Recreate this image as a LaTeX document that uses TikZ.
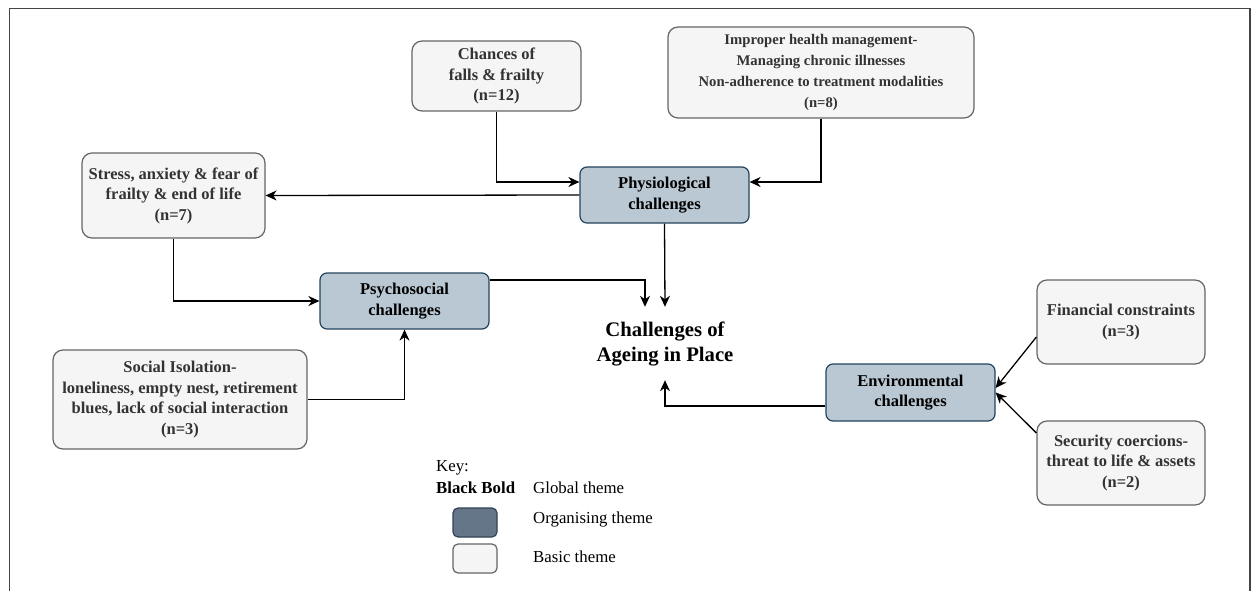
\documentclass[tikz,border=0pt]{standalone}
\usepackage{fontspec}
\setmainfont{Liberation Serif}
\usetikzlibrary{arrows.meta}
\definecolor{basicfill}{HTML}{F5F5F5}
\definecolor{basicdraw}{HTML}{666666}
\definecolor{basictext}{HTML}{333333}
\definecolor{orgfill}{HTML}{BAC8D3}
\definecolor{orgdraw}{HTML}{23445D}
\definecolor{keyfill}{HTML}{647687}
\definecolor{keydraw}{HTML}{314354}
\definecolor{framecol}{HTML}{444444}
\begin{document}
\begin{tikzpicture}[x=1pt,y=-1pt,
  basic/.style={draw=basicdraw, fill=basicfill, text=basictext, rounded corners=10pt,
    line width=1.2pt, align=center, inner sep=0pt,
    font=\fontsize{16.5}{20.5}\selectfont\bfseries},
  org/.style={draw=orgdraw, fill=orgfill, text=black, rounded corners=7pt,
    line width=1.2pt, align=center, inner sep=0pt, minimum width=169pt, minimum height=56pt,
    font=\fontsize{16.5}{20.5}\selectfont\bfseries},
  conn/.style={line width=1.3pt, -{Stealth[length=11pt,width=10pt,inset=3.5pt]}},
  keytext/.style={anchor=west, inner sep=0pt, font=\fontsize{16.8}{20}\selectfont}
]
\useasboundingbox (0,0) rectangle (1251,591);
\draw[framecol, line width=1.2pt] (9.5,591) -- (9.5,8.5) -- (1250,8.5) -- (1250,591);

% basic theme boxes
\node[basic, minimum width=183pt, minimum height=85pt] (stress) at (173.5,195.5)
  {Stress, anxiety \& fear of\\frailty \& end of life\\(n=7)};
\node[basic, minimum width=169pt, minimum height=70pt] (chances) at (496.5,76)
  {Chances of\\falls \& frailty\\(n=12)};
\node[basic, minimum width=306pt, minimum height=91pt, font=\fontsize{14.7}{21.3}\selectfont\bfseries] (improper) at (821,72.5)
  {Improper health management-\\Managing chronic illnesses\\Non-adherence to treatment modalities\\(n=8)};
\node[basic, minimum width=254pt, minimum height=99pt] (social) at (180,399.5)
  {Social Isolation-\\loneliness, empty nest, retirement\\blues, lack of social interaction\\(n=3)};
\node[basic, minimum width=168pt, minimum height=84pt] (financial) at (1121,322)
  {Financial constraints\\(n=3)};
\node[basic, minimum width=168pt, minimum height=84pt] (security) at (1121,463)
  {Security coercions-\\threat to life \& assets\\(n=2)};

% organising theme boxes
\node[org] (physio) at (664.5,195) {Physiological\\challenges};
\node[org] (psycho) at (404.5,301) {Psychosocial\\challenges};
\node[org, minimum height=57pt] (env) at (910.5,392.5) {Environmental\\challenges};

% global theme
\node[align=center, inner sep=0pt, minimum width=150pt, minimum height=73pt,
  font=\fontsize{20.7}{25}\selectfont\bfseries] (global) at (665,343.5)
  {Challenges of\\Ageing in Place};

% connectors
\draw[conn] (chances.south) |- ([yshift=13pt]physio.west);
\draw[conn] (improper.south) |- ([yshift=13pt]physio.east);
\draw[conn] (physio.west) -- (stress.east);
\draw[conn] (physio.south) -- (global.north);
\draw[conn] (stress.south) |- (psycho.west);
\draw[conn] ([yshift=21pt]psycho.east) -| ([xshift=-20pt]global.north);
\draw[conn] (social.east) -| (psycho.south);
\draw[conn] ([yshift=-13.5pt]env.west) -| (global.south);
\draw[conn] ([yshift=-15pt]financial.west) -- ([yshift=4.5pt]env.east);
\draw[conn] ([yshift=30pt]security.west) -- (env.east);

% key
\node[keytext] (keylabel) at (436,468) {Key:};
\node[keytext, font=\fontsize{16.8}{20}\selectfont\bfseries] (keybold) at (436,488) {Black Bold};
\node[keytext] (keyglobal) at (533,488) {Global theme};
\node[draw=keydraw, fill=keyfill, rounded corners=5pt, line width=1.2pt,
  minimum width=44pt, minimum height=29pt, inner sep=0pt] (keyorg) at (475,522.5) {};
\node[draw=basicdraw, fill=basicfill, rounded corners=5pt, line width=1.2pt,
  minimum width=44pt, minimum height=29pt, inner sep=0pt] (keybasic) at (475,558.5) {};
\node[keytext] (keyorgtext) at (533,519) {Organising theme};
\node[keytext] (keybasictext) at (533,557) {Basic theme};
\end{tikzpicture}
\end{document}
